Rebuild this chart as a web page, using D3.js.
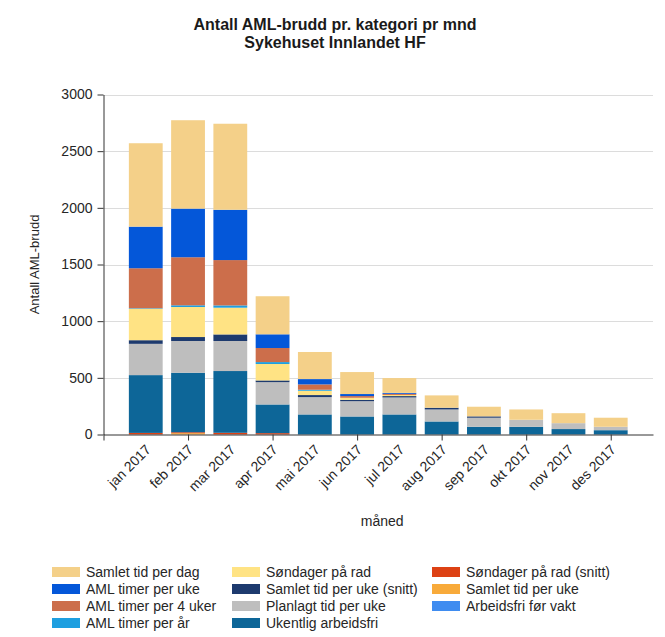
<!DOCTYPE html>
<html>
<head>
<meta charset="utf-8">
<script src="https://cdn.jsdelivr.net/npm/d3@7"></script>
<style>
  html, body { margin: 0; padding: 0; background: #fff; }
  text { font-family: "Liberation Sans", Arial, sans-serif; }
</style>
</head>
<body>
<svg id="chart" width="665" height="637"></svg>
<script>
// ---------- data ----------
const months = ["jan 2017","feb 2017","mar 2017","apr 2017","mai 2017","jun 2017",
                "jul 2017","aug 2017","sep 2017","okt 2017","nov 2017","des 2017"];

// series (bottom of stack first)
const arbeidsfriForVakt   = [0, 0, 0, 0, 0, 0, 0, 0, 0, 0, 0, 0];
const samletTidPerUke     = [0, 12, 0, 0, 0, 0, 0, 0, 0, 0, 0, 0];
const sondagerPaRadSnitt  = [14, 8, 15, 12, 0, 0, 0, 0, 0, 0, 0, 0];
const ukentligArbeidsfri  = [510, 525, 545, 253, 177, 159, 177, 115, 68, 68, 48, 38];
const planlagtTidPerUke   = [276, 280, 265, 197, 153, 135, 150, 106, 80, 62, 52, 30];
const samletTidUkeSnitt   = [32, 35, 58, 15, 18, 12, 12, 15, 12, 0, 0, 0];
const sondagerPaRad       = [277, 265, 236, 145, 38, 18, 10, 0, 0, 0, 0, 0];
const amlTimerPerAr       = [5, 15, 20, 17, 9, 0, 0, 0, 0, 0, 0, 0];
const amlTimerPer4Uker    = [353, 424, 400, 124, 47, 15, 10, 0, 0, 0, 0, 0];
const amlTimerPerUke      = [367, 429, 444, 121, 47, 18, 8, 0, 0, 0, 0, 0];
const samletTidPerDag     = [736, 780, 759, 336, 239, 194, 131, 109, 85, 91, 88, 80];

const yTicks = [0, 500, 1000, 1500, 2000, 2500, 3000];

const seriesDefs = [
  { key: "Arbeidsfri før vakt",        values: arbeidsfriForVakt,  color: "#3f8cf0" },
  { key: "Samlet tid per uke",         values: samletTidPerUke,    color: "#f8aa3a" },
  { key: "Søndager på rad (snitt)",    values: sondagerPaRadSnitt, color: "#dd4114" },
  { key: "Ukentlig arbeidsfri",        values: ukentligArbeidsfri, color: "#0d6698" },
  { key: "Planlagt tid per uke",       values: planlagtTidPerUke,  color: "#bebebe" },
  { key: "Samlet tid per uke (snitt)", values: samletTidUkeSnitt,  color: "#1d3a6e" },
  { key: "Søndager på rad",            values: sondagerPaRad,      color: "#ffe384" },
  { key: "AML timer per år",           values: amlTimerPerAr,      color: "#1e9fe0" },
  { key: "AML timer per 4 uker",       values: amlTimerPer4Uker,   color: "#cc6e4b" },
  { key: "AML timer per uke",          values: amlTimerPerUke,     color: "#0457d9" },
  { key: "Samlet tid per dag",         values: samletTidPerDag,    color: "#f4d089" }
];

// legend order (column-wise)
const legendOrder = [
  "Samlet tid per dag", "AML timer per uke", "AML timer per 4 uker", "AML timer per år",
  "Søndager på rad", "Samlet tid per uke (snitt)", "Planlagt tid per uke", "Ukentlig arbeidsfri",
  "Søndager på rad (snitt)", "Samlet tid per uke", "Arbeidsfri før vakt"
];

// ---------- chart ----------
(function () {
const svg = d3.select("#chart");
svg.append("rect").attr("width", 665).attr("height", 637).attr("fill", "#fff");

const pLeft = 103.5, pRight = 653, pTop = 94.5, pBottom = 434.5;
const txt = "#262626";

const table = months.map((m, i) => {
  const row = { month: m, idx: i + 1 };
  seriesDefs.forEach(s => row[s.key] = s.values[i]);
  return row;
});

const stack = d3.stack().keys(seriesDefs.map(s => s.key));
const stacked = stack(table);

const x = d3.scaleLinear().domain([0, 13]).range([pLeft, pRight]);
const y = d3.scaleLinear().domain([0, 3000]).range([pBottom, pTop]);
const step = x(1) - x(0);
const barW = step * 0.8;

// gridlines
svg.append("g").selectAll("line").data(yTicks.filter(d => d > 0)).join("line")
  .attr("x1", pLeft).attr("x2", pRight)
  .attr("y1", d => Math.round(y(d)) + 0.5).attr("y2", d => Math.round(y(d)) + 0.5)
  .attr("stroke", "#dcdcdc").attr("stroke-width", 1);

// bars
const color = d3.scaleOrdinal().domain(seriesDefs.map(s => s.key)).range(seriesDefs.map(s => s.color));
svg.append("g").selectAll("g").data(stacked).join("g")
  .attr("fill", d => color(d.key))
  .selectAll("rect").data(d => d).join("rect")
  .attr("x", d => x(d.data.idx) - barW / 2)
  .attr("width", barW)
  .attr("y", d => y(d[1]))
  .attr("height", d => Math.max(0, y(d[0]) - y(d[1])));

// y axis
const yAxis = svg.append("g").attr("transform", `translate(${pLeft},0)`)
  .call(d3.axisLeft(y).tickValues(yTicks).tickFormat(d3.format("d"))
    .tickSize(6).tickSizeOuter(0).tickPadding(5));
yAxis.select(".domain").attr("stroke", "#333");
yAxis.selectAll(".tick line").attr("stroke", "#333");
yAxis.selectAll("text").attr("font-size", 14).attr("fill", txt)
  .style("font-family", "'Liberation Sans', Arial, sans-serif");

// x axis
const xAxis = svg.append("g").attr("transform", `translate(0,${pBottom})`)
  .call(d3.axisBottom(x).tickValues([0, 2, 4, 6, 8, 10, 12]).tickFormat("").tickSize(6).tickSizeOuter(0));
xAxis.select(".domain").attr("stroke", "#333");
xAxis.selectAll(".tick line").attr("stroke", "#333");

// x labels
svg.append("g").selectAll("text").data(table).join("text")
  .attr("transform", d => `translate(${x(d.idx) + 6},${pBottom + 16}) rotate(-45)`)
  .attr("text-anchor", "end")
  .attr("font-size", 14)
  .attr("fill", txt)
  .text(d => d.month);

// axis titles
svg.append("text")
  .attr("transform", `translate(39,${(pTop + pBottom) / 2}) rotate(-90)`)
  .attr("text-anchor", "middle").attr("font-size", 13).attr("fill", txt)
  .text("Antall AML-brudd");

svg.append("text")
  .attr("x", (pLeft + pRight) / 2 + 4).attr("y", 526)
  .attr("text-anchor", "middle").attr("font-size", 14).attr("fill", txt)
  .text("måned");

// title
svg.append("text").attr("x", 335).attr("y", 30)
  .attr("text-anchor", "middle").attr("font-size", 16).attr("font-weight", "bold").attr("fill", "#1a1a1a")
  .text("Antall AML-brudd pr. kategori pr mnd");
svg.append("text").attr("x", 335).attr("y", 48)
  .attr("text-anchor", "middle").attr("font-size", 16).attr("font-weight", "bold").attr("fill", "#1a1a1a")
  .text("Sykehuset Innlandet HF");

// legend
const colX = [52, 232, 432];
const rowY = [572, 589, 606, 623];
const legend = svg.append("g");
legendOrder.forEach((k, i) => {
  const c = Math.floor(i / 4), r = i % 4;
  const g = legend.append("g").attr("transform", `translate(${colX[c]},${rowY[r]})`);
  g.append("rect").attr("x", 0).attr("y", -5).attr("width", 28).attr("height", 10).attr("fill", color(k));
  g.append("text").attr("x", 34).attr("y", 0).attr("dy", "0.35em")
    .attr("font-size", 14).attr("fill", txt).text(k);
});
})();
</script>
</body>
</html>
